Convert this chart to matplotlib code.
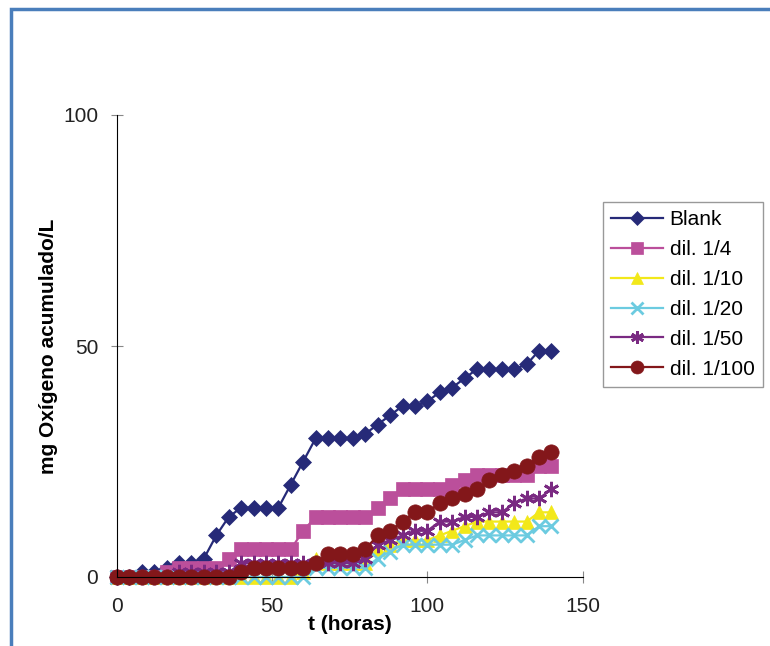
import numpy as np
import matplotlib
matplotlib.use('Agg')
from matplotlib import pyplot as plt
from matplotlib.patches import Rectangle

plt.rcParams['font.family'] = ['Liberation Sans', 'DejaVu Sans']

t = np.arange(0, 141, 4)  # horas

blank = [0, 0, 1, 1, 2, 3, 3, 4, 9, 13, 15, 15, 15, 15, 20, 25, 30, 30,
         30, 30, 31, 33, 35, 37, 37, 38, 40, 41, 43, 45, 45, 45, 45, 46, 49, 49]
dil_4 = [0, 0, 0, 0, 1, 2, 2, 2, 2, 4, 6, 6, 6, 6, 6, 10, 13, 13,
         13, 13, 13, 15, 17, 19, 19, 19, 19, 20, 21, 22, 22, 22, 22, 22, 24, 24]
dil_10 = [0, 0, 0, 0, 0, 0, 0, 0, 0, 0, 0, 0, 0, 0, 0, 1, 4, 3,
          3, 3, 3, 6, 7, 8, 8, 8, 9, 10, 11, 12, 12, 12, 12, 12, 14, 14]
dil_20 = [0, 0, 0, 0, 0, 0, 0, 0, 0, 0, 0, 0, 0, 0, 0, 0, 2, 2,
          2, 2, 2, 4, 5.5, 7, 7, 7, 7, 7, 8, 9, 9, 9, 9, 9, 11, 11]
dil_50 = [0, 0, 0, 0, 0, 1, 1, 1, 1, 1, 3, 3, 3, 3, 3, 3, 3, 3,
          3, 3, 4, 7, 8, 9, 10, 10, 12, 12, 13, 13, 14, 14, 16, 17, 17, 19]
dil_100 = [0, 0, 0, 0, 0, 0, 0, 0, 0, 0, 1, 2, 2, 2, 2, 2, 3, 5,
           5, 5, 6, 9, 10, 12, 14, 14, 16, 17, 18, 19, 21, 22, 23, 24, 26, 27]

labels = ['Blank', 'dil. 1/4', 'dil. 1/10', 'dil. 1/20', 'dil. 1/50', 'dil. 1/100']
series = [blank, dil_4, dil_10, dil_20, dil_50, dil_100]
colors = ['#262a78', '#bb4f9b', '#f2e81a', '#6ccbe0', '#7a2a82', '#83171a']
markers = ['D', 's', '^', 'x', (6, 2, 0), 'o']
msizes = [8, 10, 10, 10, 11, 11]

fig = plt.figure(figsize=(7.7, 6.46), dpi=100)

# blue frame around the chart area (runs off right/bottom edges)
fig.patches.append(Rectangle((11/770, -0.05), 1.0, 1 - 9/646 + 0.05,
                             transform=fig.transFigure, fill=False,
                             edgecolor='#4a7ebb', linewidth=2.5))

ax = fig.add_axes([117/770, 1 - 577/646, (582.5 - 117)/770, (577 - 115)/646])

for y, lab, c, m, ms in zip(series, labels, colors, markers, msizes):
    ax.plot(t, y, color=c, marker=m, markersize=ms, linewidth=1.6,
            markeredgewidth=2 if m in ('x', (6, 2, 0)) else 0.5,
            markeredgecolor=c, label=lab, clip_on=False)

ax.set_xlim(0, 150)
ax.set_ylim(0, 100)
ax.set_xticks([0, 50, 100, 150])
ax.set_yticks([0, 50, 100])
ax.spines['top'].set_visible(False)
ax.spines['right'].set_visible(False)
ax.tick_params(axis='both', direction='inout', length=9, color='#888888',
               labelsize=15, labelcolor='#222222')
ax.tick_params(axis='x', pad=10)
ax.tick_params(axis='y', pad=9)

ax.set_xlabel('t (horas)', fontsize=15, fontweight='bold', labelpad=-1)
ax.set_ylabel('mg Oxígeno acumulado/L', fontsize=15, fontweight='bold', labelpad=4)

leg = ax.legend(loc='upper left', bbox_to_anchor=(603/770, 1 - 202/646),
                bbox_transform=fig.transFigure, borderaxespad=0,
                fontsize=15, handlelength=2.5, handletextpad=0.3,
                labelspacing=0.52, borderpad=0.4, fancybox=False,
                edgecolor='#999999', framealpha=1)
leg.get_frame().set_linewidth(1)
for h in leg.get_lines():
    h.set_markersize(h.get_markersize() * 0.85)

fig.savefig('out.png', dpi=100)
